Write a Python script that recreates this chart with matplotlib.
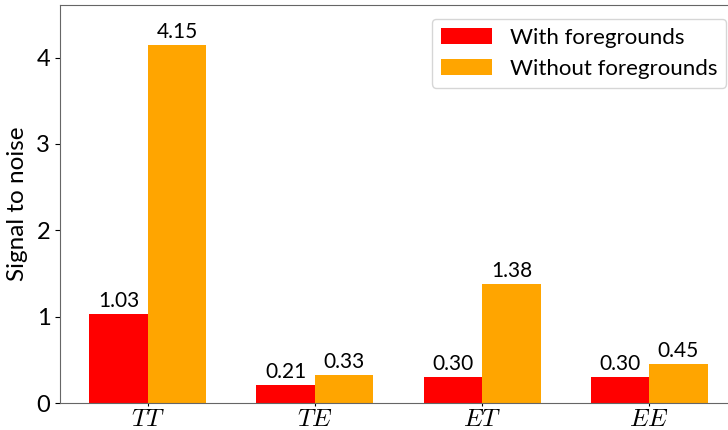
import matplotlib as mpl
import matplotlib.pyplot as plt
import numpy as np

mpl.rcParams['font.family'] = ['Lato', 'DejaVu Sans']
mpl.rcParams['mathtext.fontset'] = 'cm'

spectra = [r'$TT$', r'$TE$', r'$ET$', r'$EE$']
with_fg = [1.03, 0.21, 0.30, 0.30]
without_fg = [4.15, 0.33, 1.38, 0.45]

x = np.arange(len(spectra))
width = 0.35

fig = plt.figure(figsize=(7.28, 4.30), dpi=100)
ax = fig.add_axes([60/728, 27/430, 677/728, 398/430])

b1 = ax.bar(x - width/2, with_fg, width, color='red', label='With foregrounds')
b2 = ax.bar(x + width/2, without_fg, width, color='orange', label='Without foregrounds')

for bars in (b1, b2):
    for rect in bars:
        h = rect.get_height()
        ax.annotate(f'{h:.2f}', (rect.get_x() + rect.get_width()/2, h),
                    xytext=(0, 2), textcoords='offset points',
                    ha='center', va='bottom', fontsize=15)

ax.set_xticks(x)
ax.set_xticklabels(spectra, fontsize=18)
ax.tick_params(axis='x', length=2, pad=1)
ax.tick_params(axis='y', labelsize=17)
ax.set_ylabel('Signal to noise', fontsize=17.5, labelpad=6)
ax.set_xlim(-0.525, 3.525)
ax.set_ylim(0, 4.61)
ax.set_yticks([0, 1, 2, 3, 4])

for s in ax.spines.values():
    s.set_color('0.4')

ax.legend(loc='upper right', fontsize=16, handlelength=2.3, borderaxespad=0,
          bbox_to_anchor=(726/728, 1 - 19/430), bbox_transform=fig.transFigure)
fig.savefig('out.png', dpi=100)
